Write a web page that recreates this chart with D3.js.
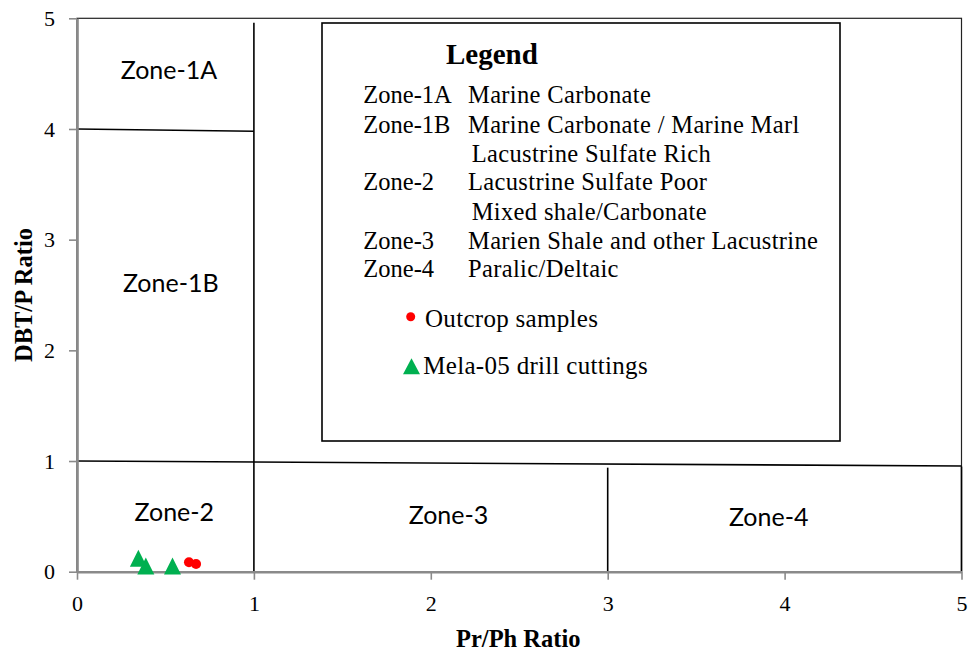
<!DOCTYPE html>
<html>
<head>
<meta charset="utf-8">
<script src="https://cdn.jsdelivr.net/npm/d3@7"></script>
<style>
  body { margin: 0; background: #fff; }
  svg { display: block; }
</style>
</head>
<body>
<div id="chart-container"></div>
<script>
const margin = { top: 18.3, right: 18.5, bottom: 81.3, left: 77 };
const totalW = 980;
const totalH = 653;
const width = totalW - margin.left - margin.right;
const height = totalH - margin.top - margin.bottom;

// samples (Pr/Ph, DBT/P)
const outcropX = [0.633, 0.673];
const outcropY = [0.085, 0.070];
const cuttingsX = [0.347, 0.389, 0.540];
const cuttingsY = [0.121, 0.051, 0.051];

const xTicks = [0, 1, 2, 3, 4, 5];
const yTicks = [0, 1, 2, 3, 4, 5];

// zone boundaries, as drawn in the original (slightly off-level)
const boundaryX1 = [0, 1, 0, 3, 5];
const boundaryY1 = [4, 4.96, 1, 0.94, 0.95];
const boundaryX2 = [1, 1, 5, 3, 5];
const boundaryY2 = [3.98, 0, 0.955, 0, 0];

const zoneNames = ["Zone-1A", "Zone-1B", "Zone-2", "Zone-3", "Zone-4"];
const zoneLabelX = [0.52, 0.53, 0.55, 2.10, 3.91];
const zoneLabelY = [4.45, 2.53, 0.46, 0.43, 0.41];

const legendCodes = ["Zone-1A", "Zone-1B", "", "Zone-2", "", "Zone-3", "Zone-4"];
const legendDescs = [
  "Marine Carbonate",
  "Marine Carbonate / Marine Marl",
  "Lacustrine Sulfate Rich",
  "Lacustrine Sulfate Poor",
  "Mixed shale/Carbonate",
  "Marien Shale and other Lacustrine",
  "Paralic/Deltaic"
];
const seriesNames = ["Outcrop samples", "Mela-05 drill cuttings"];

const serif = "'Liberation Serif', 'Times New Roman', serif";
const sans = "Lato, 'Open Sans', sans-serif";
const axisGrey = "#8a8a8a";
const red = "#ff0000";
const green = "#00b050";

const x = d3.scaleLinear().domain([0, 5]).range([0, width]);
const y = d3.scaleLinear().domain([0, 5]).range([height, 0]);

const root = d3.select("#chart-container")
  .append("svg")
    .attr("width", totalW)
    .attr("height", totalH);

root.append("rect")
  .attr("width", totalW)
  .attr("height", totalH)
  .attr("fill", "#fff");

const svg = root.append("g")
  .attr("transform", `translate(${margin.left},${margin.top})`);

// plot area frame (top / right show, left / bottom sit under axes)
svg.append("rect")
  .attr("x", 0)
  .attr("y", 0)
  .attr("width", width)
  .attr("height", height)
  .attr("fill", "none")
  .attr("stroke", "#222")
  .attr("stroke-width", 1.2);

// zone boundaries
const bounds = d3.range(boundaryX1.length);
svg.append("g")
  .selectAll("line")
  .data(bounds)
  .join("line")
    .attr("x1", i => x(boundaryX1[i]))
    .attr("y1", i => y(boundaryY1[i]))
    .attr("x2", i => x(boundaryX2[i]))
    .attr("y2", i => y(boundaryY2[i]))
    .attr("stroke", "#000")
    .attr("stroke-width", 1.6);

// zone labels
svg.append("g")
  .selectAll("text")
  .data(zoneNames)
  .join("text")
    .attr("x", (d, i) => x(zoneLabelX[i]))
    .attr("y", (d, i) => y(zoneLabelY[i]))
    .attr("text-anchor", "middle")
    .attr("font-family", sans)
    .attr("font-size", 25)
    .attr("fill", "#000")
    .text(d => d);

// axes
const fmt = d3.format("d");
const yAxis = svg.append("g")
  .call(d3.axisLeft(y).tickValues(yTicks).tickFormat(fmt)
    .tickSize(8).tickSizeOuter(0).tickPadding(14));
const xAxis = svg.append("g")
  .attr("transform", `translate(0,${height})`)
  .call(d3.axisBottom(x).tickValues(xTicks).tickFormat(fmt)
    .tickSize(8).tickSizeOuter(0).tickPadding(16));

[xAxis, yAxis].forEach(a => {
  a.select(".domain").attr("stroke", axisGrey).attr("stroke-width", 2.6);
  a.selectAll(".tick line").attr("stroke", axisGrey).attr("stroke-width", 1.6);
  a.selectAll(".tick text")
    .attr("font-family", serif)
    .attr("font-size", 22)
    .attr("fill", "#000");
});

// axis titles
root.append("text")
  .attr("x", margin.left + width / 2 - 1)
  .attr("y", 647)
  .attr("text-anchor", "middle")
  .attr("font-family", serif)
  .attr("font-weight", "bold")
  .attr("font-size", 24.5)
  .text("Pr/Ph Ratio");

root.append("text")
  .attr("transform", "translate(31.5,295) rotate(-90)")
  .attr("text-anchor", "middle")
  .attr("font-family", serif)
  .attr("font-weight", "bold")
  .attr("font-size", 24.5)
  .text("DBT/P Ratio");

// data points
const tri = 8.5;
svg.append("g")
  .selectAll("path")
  .data(cuttingsX)
  .join("path")
    .attr("d", (d, i) => {
      const cx = x(d), cy = y(cuttingsY[i]);
      return `M${cx},${cy - tri}L${cx + tri},${cy + tri}L${cx - tri},${cy + tri}Z`;
    })
    .attr("fill", green);

svg.append("g")
  .selectAll("circle")
  .data(outcropX)
  .join("circle")
    .attr("cx", d => x(d))
    .attr("cy", (d, i) => y(outcropY[i]))
    .attr("r", 5)
    .attr("fill", red);

// legend text box
const legend = root.append("g").attr("transform", "translate(322,23)");

legend.append("rect")
  .attr("width", 518)
  .attr("height", 418)
  .attr("fill", "#fff")
  .attr("stroke", "#000")
  .attr("stroke-width", 1.6);

legend.append("text")
  .attr("x", 124)
  .attr("y", 40.5)
  .attr("font-family", serif)
  .attr("font-weight", "bold")
  .attr("font-size", 29)
  .text("Legend");

const rowBase = [79.7, 110.3, 138.7, 167, 197, 226.3, 254.3];

legend.append("g")
  .selectAll("text")
  .data(legendCodes)
  .join("text")
    .attr("x", 41.3)
    .attr("y", (d, i) => rowBase[i])
    .attr("font-family", serif)
    .attr("font-size", 24.5)
    .text(d => d);

legend.append("g")
  .selectAll("text")
  .data(legendDescs)
  .join("text")
    .attr("x", (d, i) => legendCodes[i] === "" ? 149.7 : 146)
    .attr("y", (d, i) => rowBase[i])
    .attr("font-family", serif)
    .attr("font-size", 24.5)
    .attr("letter-spacing", 0.35)
    .text(d => d);

// series keys
legend.append("circle")
  .attr("cx", 88.7)
  .attr("cy", 293.7)
  .attr("r", 4.5)
  .attr("fill", red);

legend.append("path")
  .attr("d", `M89.5,${335.3}L${98},${351.3}L${81},${351.3}Z`)
  .attr("fill", green);

legend.append("g")
  .selectAll("text")
  .data(seriesNames)
  .join("text")
    .attr("x", (d, i) => i === 0 ? 103 : 101.3)
    .attr("y", (d, i) => i === 0 ? 303.7 : 351.3)
    .attr("font-family", serif)
    .attr("font-size", 25)
    .attr("letter-spacing", 0.3)
    .text(d => d);
</script>
</body>
</html>
